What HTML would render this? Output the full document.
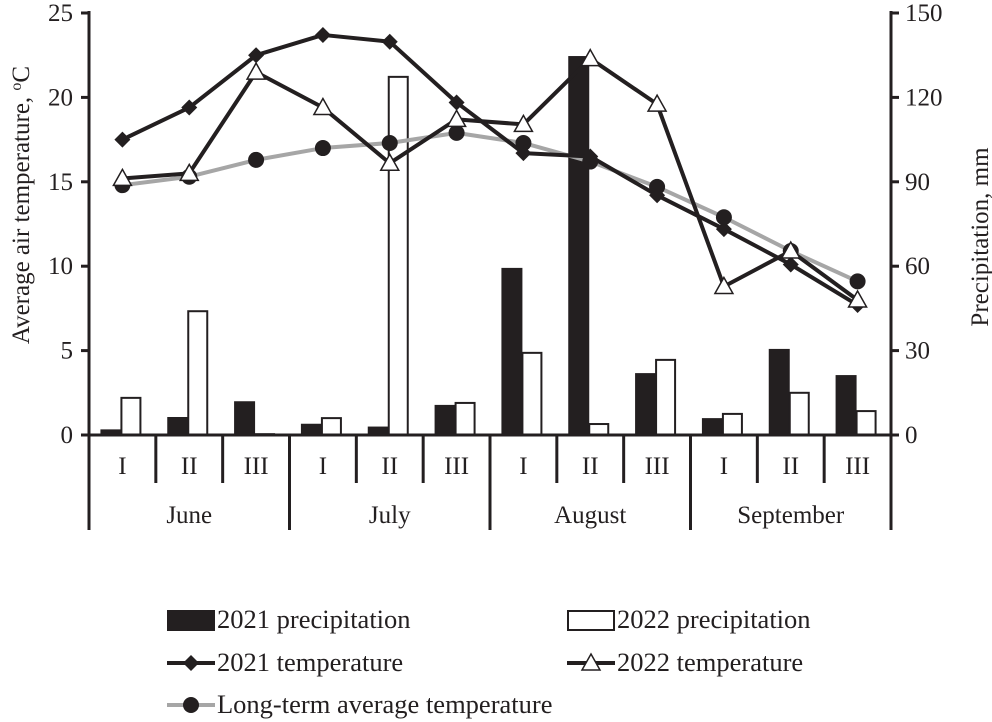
<!DOCTYPE html>
<html><head><meta charset="utf-8"><style>
html,body{margin:0;padding:0;background:#fff;}
svg{display:block;font-family:"Liberation Serif",serif;}
</style></head><body>
<svg id="c" width="992" height="722" viewBox="0 0 992 722"></svg>
<script>
const periods=["I","II","III","I","II","III","I","II","III","I","II","III"];
const months=["June","July","August","September"];
const precip2021=[2,6.4,12,4,3,10.7,59.4,134.7,22,6,30.6,21.3];
const precip2022=[13.2,44,0.3,6,127.3,11.4,29.2,3.9,26.7,7.5,15,8.5];
const temp2021=[17.5,19.4,22.5,23.7,23.3,19.7,16.7,16.5,14.2,12.2,10.1,7.7];
const temp2022=[15.2,15.5,21.5,19.4,16.1,18.7,18.4,22.3,19.6,8.8,10.9,8.0];
const tempLT=[14.8,15.3,16.3,17.0,17.3,17.9,17.3,16.2,14.7,12.9,10.9,9.1];
const leftTicks=[0,5,10,15,20,25];
const rightTicks=[0,30,60,90,120,150];

const NS="http://www.w3.org/2000/svg";
const svg=document.getElementById('c');
const X0=89,X1=891,Y0=435,Y1=13;
const cw=(X1-X0)/12;
const cx=i=>X0+cw*(i+0.5);
const yT=v=>Y0-(v/25)*(Y0-Y1);
const yP=v=>Y0-(v/150)*(Y0-Y1);
function el(t,a,p){const e=document.createElementNS(NS,t);for(const k in a)e.setAttribute(k,a[k]);(p||svg).appendChild(e);return e;}
function txt(s,x,y,a,size,extra){const e=el('text',Object.assign({x:x,y:y,'text-anchor':a,'font-size':size||25,fill:'#231f20'},extra||{}));e.textContent=s;return e;}

precip2021.forEach((v,i)=>{const b=el('rect',{x:cx(i)-22,y:yP(v),width:21,height:Y0-yP(v),fill:'#231f20'});

});
precip2022.forEach((v,i)=>{const b=el('rect',{x:cx(i)-1,y:yP(v),width:19,height:Y0-yP(v),fill:'#fff',stroke:'#231f20','stroke-width':2});

});

function line(arr,color,w,name){const p=el('polyline',{points:arr.map((v,i)=>cx(i)+','+yT(v)).join(' '),fill:'none',stroke:color,'stroke-width':w,'stroke-linejoin':'round'});

}
line(tempLT,'#a6a6a6',4,'long-term-line');
line(temp2021,'#231f20',4,'temp-2021-line');
line(temp2022,'#231f20',4,'temp-2022-line');
function diamond(x,y,g){return el('polygon',{points:`${x},${y-8} ${x+8},${y} ${x},${y+8} ${x-8},${y}`,fill:'#231f20'},g);}
function tri(x,y,g){return el('polygon',{points:`${x},${y-9} ${x+9},${y+7} ${x-9},${y+7}`,fill:'#fff',stroke:'#231f20','stroke-width':1.5},g);}
function circ(x,y,g){return el('circle',{cx:x,cy:y,r:8,fill:'#231f20'},g);}
tempLT.forEach((v,i)=>{const m=circ(cx(i),yT(v));});
temp2021.forEach((v,i)=>{const m=diamond(cx(i),yT(v));});
temp2022.forEach((v,i)=>{const m=tri(cx(i),yT(v));});

el('line',{x1:X0,y1:Y1-2,x2:X0,y2:530,stroke:'#231f20','stroke-width':3});
el('line',{x1:X1,y1:Y1-2,x2:X1,y2:530,stroke:'#231f20','stroke-width':3});
el('line',{x1:X0-8,y1:Y0,x2:X1+8,y2:Y0,stroke:'#231f20','stroke-width':3});
leftTicks.forEach(v=>{el('line',{x1:X0-8,y1:yT(v),x2:X0,y2:yT(v),stroke:'#231f20','stroke-width':3});
const t=txt(String(v),73,yT(v)+8,'end');});
rightTicks.forEach(v=>{el('line',{x1:X1,y1:yP(v),x2:X1+8,y2:yP(v),stroke:'#231f20','stroke-width':3});
const t=txt(String(v),905,yP(v)+8,'start');});
for(let i=1;i<12;i++){const x=X0+cw*i;el('line',{x1:x,y1:Y0,x2:x,y2:i%3===0?530:483,stroke:'#231f20','stroke-width':3});}
periods.forEach((p,i)=>{const t=txt(p,cx(i),474,'middle');});
months.forEach((m,i)=>{const t=txt(m,X0+cw*(3*i+1.5),523,'middle');});
const yl=txt('Average air temperature, ',0,0,'middle',25,{transform:'rotate(-90) translate(-205,29)'});

const sup=el('tspan',{'baseline-shift':'super','font-size':16},yl);sup.textContent='o';
const cc=el('tspan',{},yl);cc.textContent='C';
const yr=txt('Precipitation, mm',0,0,'middle',25,{transform:'rotate(-90) translate(-237,988)'});


function leg(name,y,x,kind,label){const g=el('g',{});
if(kind==='b1')el('rect',{x:x,y:y-10,width:48,height:21,fill:'#231f20'},g);
if(kind==='b2')el('rect',{x:x+1,y:y-9,width:46,height:19,fill:'#fff',stroke:'#231f20','stroke-width':2},g);
if(kind==='d'){el('line',{x1:x,y1:y,x2:x+48,y2:y,stroke:'#231f20','stroke-width':4},g);diamond(x+24,y,g);}
if(kind==='t'){el('line',{x1:x,y1:y,x2:x+48,y2:y,stroke:'#231f20','stroke-width':4},g);tri(x+24,y,g);}
if(kind==='c'){el('line',{x1:x,y1:y,x2:x+48,y2:y,stroke:'#a6a6a6','stroke-width':4},g);circ(x+24,y,g);}
const t=el('text',{x:x+50,y:y+8,'font-size':26.5,fill:'#231f20'},g);t.textContent=label;}
leg('legend-2021-precipitation',620,167,'b1','2021 precipitation');
leg('legend-2022-precipitation',620,567,'b2','2022 precipitation');
leg('legend-2021-temperature',663,167,'d','2021 temperature');
leg('legend-2022-temperature',663,567,'t','2022 temperature');
leg('legend-long-term',705,167,'c','Long-term average temperature');
</script>
</body></html>
